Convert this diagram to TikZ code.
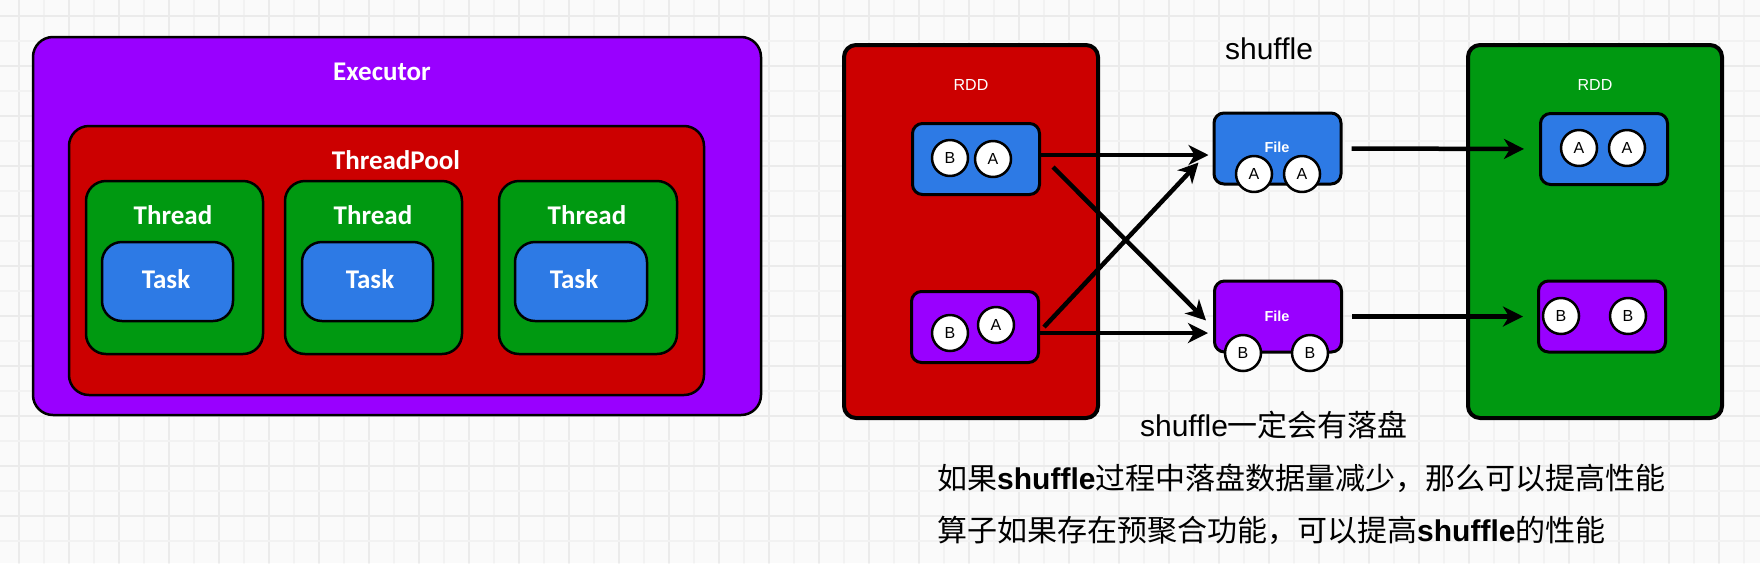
\documentclass[tikz,border=0pt]{standalone}
\usepackage{fontspec}
\setmainfont{Liberation Sans}
\newfontfamily\cjk{Noto Sans CJK SC}
\newfontfamily\hand{Carlito}
\usetikzlibrary{arrows.meta}
\definecolor{vio}{RGB}{153,0,255}
\definecolor{rd}{RGB}{204,0,0}
\definecolor{gr}{RGB}{0,153,17}
\definecolor{bl}{RGB}{45,122,229}
\definecolor{bgc}{RGB}{250,250,250}
\definecolor{gridl}{RGB}{242,242,242}
\definecolor{gridh}{RGB}{235,235,235}
\tikzset{
  every picture/.style={line join=round, line cap=round, >=Stealth},
  box/.style={draw=black, line width=2.5pt, rounded corners=20pt, inner sep=0pt},
  hlabel/.style={text=white, inner sep=0pt, font=\hand\bfseries\fontsize{27}{32}\selectfont},
  rdd/.style={draw=black, line width=4pt, rounded corners=12pt, minimum width=254pt, minimum height=373pt},
  part/.style={draw=black, line width=3pt, rounded corners=10pt, minimum width=127pt, minimum height=71pt},
  ball/.style={circle, draw=black, fill=white, line width=2.5pt, minimum size=36pt, inner sep=0pt, font=\fontsize{16}{18}\selectfont},
  wlabel/.style={text=white, inner sep=0pt, font=\fontsize{16}{18}\selectfont},
  note/.style={text=black, inner sep=0pt, font=\fontsize{30}{36}\selectfont},
  flow/.style={line width=4.5pt, line cap=butt, -{Stealth[length=20pt,width=20pt,inset=6pt]}},
}

\begin{document}
\begin{tikzpicture}[x=1pt,y=-1pt]
\useasboundingbox (0,0) rectangle (1760,563);
% background grid
\fill[bgc] (0,0) rectangle (1760,563);
\foreach \x in {44,94,...,1744} \draw[gridl, line width=1.2pt] (\x,0) -- (\x,563);
\foreach \x in {19,69,...,1760} \draw[gridh, line width=1.5pt] (\x,0) -- (\x,563);
\foreach \y in {41,91,...,563} \draw[gridl, line width=1.2pt] (0,\y) -- (1760,\y);
\foreach \y in {16,66,...,563} \draw[gridh, line width=1.5pt] (0,\y) -- (1760,\y);

% executor
\node[box, fill=vio, minimum width=728pt, minimum height=378pt] (exec) at (397,226) {};
\node[box, fill=rd, minimum width=635pt, minimum height=269pt] (pool) at (386.5,260.5) {};
\node[box, fill=gr, minimum width=177pt, minimum height=173pt] (th1) at (174.5,267.5) {};
\node[box, fill=gr, minimum width=177pt, minimum height=173pt] (th2) at (373.5,267.5) {};
\node[box, fill=gr, minimum width=178pt, minimum height=173pt] (th3) at (588,267.5) {};
\node[box, fill=bl, minimum width=131pt, minimum height=79pt] (tk1) at (167.5,281.5) {};
\node[box, fill=bl, minimum width=131pt, minimum height=79pt] (tk2) at (367.5,281.5) {};
\node[box, fill=bl, minimum width=132pt, minimum height=79pt] (tk3) at (581,281.5) {};
\node[hlabel] (execl) at (382,72) {Executor};
\node[hlabel] (pooll) at (396,160) {ThreadPool};
\node[hlabel] (th1l) at (173,215) {Thread};
\node[hlabel] (th2l) at (373,215) {Thread};
\node[hlabel] (th3l) at (587,215) {Thread};
\node[hlabel] (tk1l) at (166,279) {Task};
\node[hlabel] (tk2l) at (370,279) {Task};
\node[hlabel] (tk3l) at (574,279) {Task};

% shuffle
\node[rdd, fill=rd] (rdd1) at (971,231.5) {};
\node[rdd, fill=gr] (rdd2) at (1595,231.5) {};
\node[wlabel] (rdd1l) at (971,85) {RDD};
\node[wlabel] (rdd2l) at (1595,85) {RDD};
\node[note] (shuf) at (1269,49) {shuffle};

\node[part, fill=bl] (bp1) at (976,159) {};
\node[part, fill=vio] (pp1) at (975,327) {};
\node[part, fill=bl] (file1) at (1277.5,148.5) {};
\node[part, fill=vio] (file2) at (1278,316.5) {};
\node[part, fill=bl] (bp2) at (1604,149) {};
\node[part, fill=vio] (pp2) at (1602,316.5) {};
\node[wlabel, font=\bfseries\fontsize{14.5}{17}\selectfont] (file1l) at (1277,147) {File};
\node[wlabel, font=\bfseries\fontsize{14.5}{17}\selectfont] (file2l) at (1277,316) {File};

\node[ball] (b11) at (950,158) {B};
\node[ball] (b12) at (993,159) {A};
\node[ball] (b21) at (950,333) {B};
\node[ball] (b22) at (996,325) {A};
\node[ball] (f11) at (1254,174) {A};
\node[ball] (f12) at (1302,174) {A};
\node[ball] (f21) at (1243,353) {B};
\node[ball] (f22) at (1310,353) {B};
\node[ball] (r11) at (1579,148) {A};
\node[ball] (r12) at (1627,148) {A};
\node[ball] (r21) at (1561,316) {B};
\node[ball] (r22) at (1628,316) {B};

\coordinate (s1) at ([yshift=4pt]bp1.east);
\coordinate (s4) at ([yshift=-6pt]pp1.east);
\draw[flow, shorten >=4pt] (s1) -- (s1 -| file1.west);
\draw[flow] ([shift={(12,8)}]bp1.east) -- ([shift={(-7,4)}]file2.west);
\draw[flow] ([xshift=4pt]pp1.east) -- ([shift={(-14,14)}]file1.west);
\draw[flow, shorten >=5pt] (s4) -- (s4 -| file2.west);
\draw[flow, shorten <=9pt, shorten >=15pt] (file1.east) -- (bp2.west);
\draw[flow, shorten <=9pt, shorten >=14pt] (file2.east) -- (pp2.west);

\node[note] (t1) at (1274,425) {shuffle{\cjk 一定会有落盘}};
\node[note, anchor=west] (t2) at (937,478) {{\cjk 如果}\textbf{shuffle}{\cjk 过程中落盘数据量减少，那么可以提高性能}};
\node[note, anchor=west] (t3) at (937,530) {{\cjk 算子如果存在预聚合功能，可以提高}\textbf{shuffle}{\cjk 的性能}};
\end{tikzpicture}
\end{document}
